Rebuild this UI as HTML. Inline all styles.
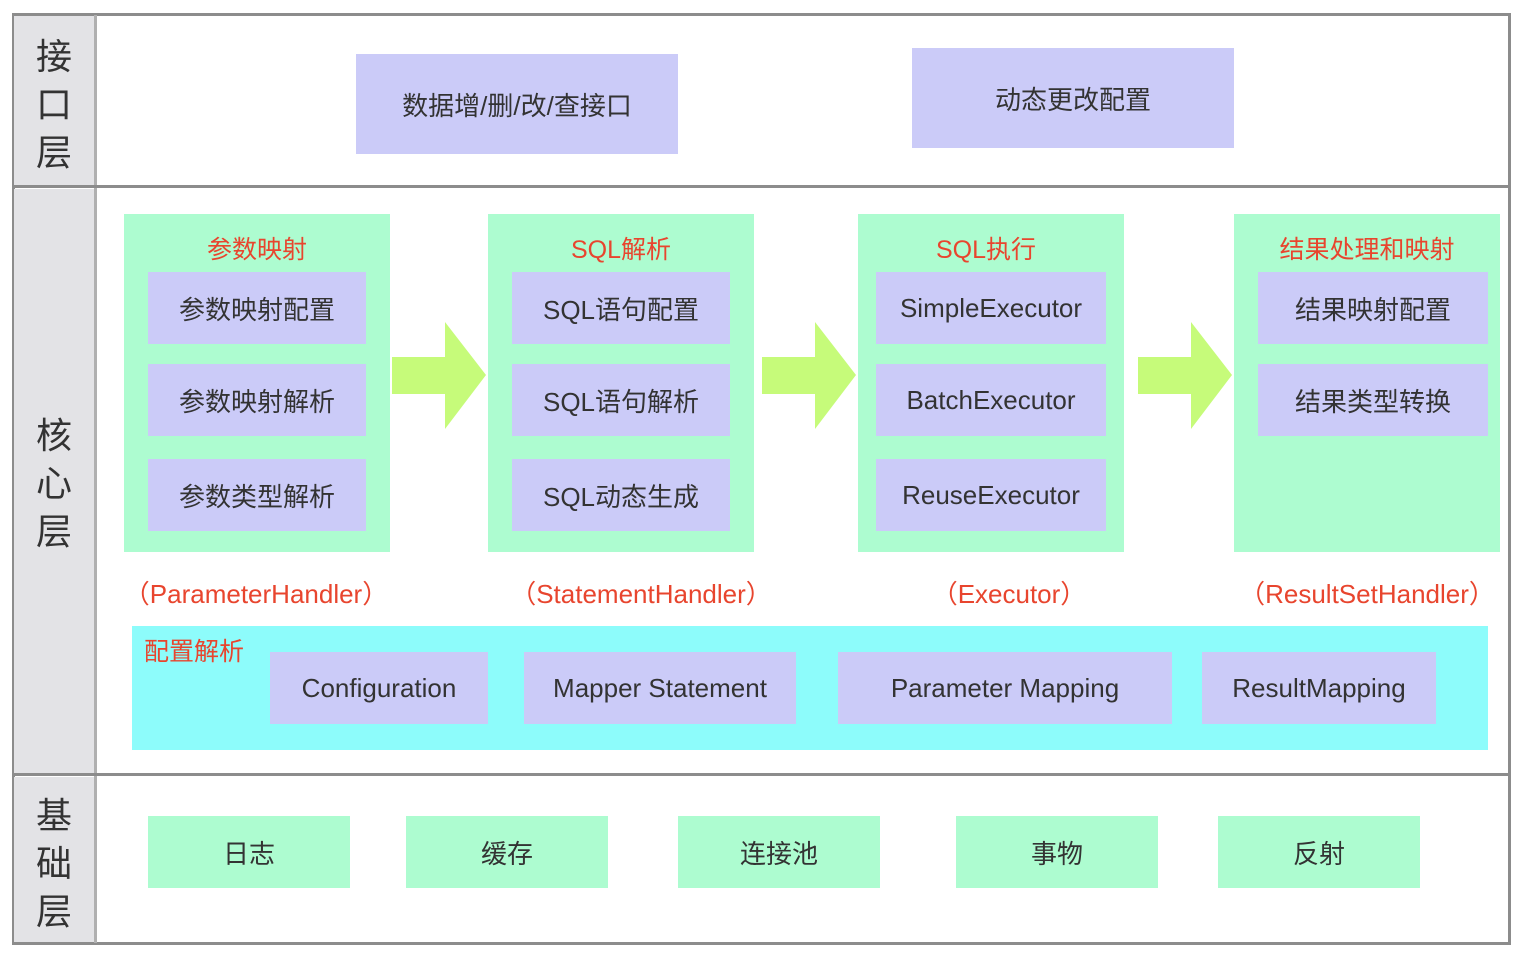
<!DOCTYPE html>
<html><head><meta charset="utf-8"><style>
body{margin:0;width:1526px;height:954px;background:#fff;position:relative;overflow:hidden;font-family:"Liberation Sans","Noto Sans CJK SC",sans-serif;color:#333}
div{position:absolute;box-sizing:border-box}
.b{display:flex;align-items:center;justify-content:center;font-size:26px}
.p{background:#cbcbf8}.g{background:#adfcd0}.c{background:#8dfcfb}
.r{color:#e8452e;font-size:25px;text-align:center}
.l{color:#e8452e;font-size:26px;text-align:center;white-space:nowrap}
.side{left:14px;width:80px;background:#e3e3e6;font-size:36px;color:#333;display:flex;flex-direction:column;align-items:center;justify-content:center;line-height:48px}
</style></head><body>
<div style="left:12px;top:13px;width:1499px;height:932px;border:3px solid #8c8c8c"></div>
<div class="side" style="top:16px;height:170px;padding-top:8px">接<br>口<br>层</div>
<div class="side" style="top:189px;height:584px;padding-top:6px">核<br>心<br>层</div>
<div class="side" style="top:777px;height:165px;padding-top:8px">基<br>础<br>层</div>
<div style="left:94px;top:15px;width:3px;height:928px;background:#b0b0b0"></div>
<div style="left:14px;top:185px;width:1496px;height:3px;background:#8c8c8c"></div>
<div style="left:14px;top:773px;width:1496px;height:3px;background:#8c8c8c"></div>

<div class="b p" style="left:356px;top:54px;width:322px;height:100px">数据增/删/改/查接口</div>
<div class="b p" style="left:912px;top:48px;width:322px;height:100px">动态更改配置</div>

<div class="g" style="left:124px;top:214px;width:266px;height:338px"></div>
<div class="g" style="left:488px;top:214px;width:266px;height:338px"></div>
<div class="g" style="left:858px;top:214px;width:266px;height:338px"></div>
<div class="g" style="left:1234px;top:214px;width:266px;height:338px"></div>
<div class="r" style="left:124px;top:230px;width:266px">参数映射</div>
<div class="r" style="left:488px;top:230px;width:266px">SQL解析</div>
<div class="r" style="left:858px;top:230px;width:256px">SQL执行</div>
<div class="r" style="left:1234px;top:230px;width:266px">结果处理和映射</div>

<div class="b p" style="left:148px;top:272px;width:218px;height:72px">参数映射配置</div>
<div class="b p" style="left:148px;top:364px;width:218px;height:72px">参数映射解析</div>
<div class="b p" style="left:148px;top:459px;width:218px;height:72px">参数类型解析</div>
<div class="b p" style="left:512px;top:272px;width:218px;height:72px">SQL语句配置</div>
<div class="b p" style="left:512px;top:364px;width:218px;height:72px">SQL语句解析</div>
<div class="b p" style="left:512px;top:459px;width:218px;height:72px">SQL动态生成</div>
<div class="b p" style="left:876px;top:272px;width:230px;height:72px">SimpleExecutor</div>
<div class="b p" style="left:876px;top:364px;width:230px;height:72px">BatchExecutor</div>
<div class="b p" style="left:876px;top:459px;width:230px;height:72px">ReuseExecutor</div>
<div class="b p" style="left:1258px;top:272px;width:230px;height:72px">结果映射配置</div>
<div class="b p" style="left:1258px;top:364px;width:230px;height:72px">结果类型转换</div>

<svg style="position:absolute;left:0;top:0" width="1526" height="954">
<g fill="#c6fb7a">
<polygon points="392,357 445,357 445,322 486,375 445,429 445,394 392,394"/>
<polygon points="762,357 815,357 815,322 856,375 815,429 815,394 762,394"/>
<polygon points="1138,357 1191,357 1191,322 1232,375 1191,429 1191,394 1138,394"/>
</g></svg>

<div class="l" style="left:96px;top:574px;width:320px">（ParameterHandler）</div>
<div class="l" style="left:470px;top:574px;width:342px">（StatementHandler）</div>
<div class="l" style="left:904px;top:574px;width:210px">（Executor）</div>
<div class="l" style="left:1222px;top:574px;width:290px">（ResultSetHandler）</div>

<div class="c" style="left:132px;top:626px;width:1356px;height:124px"></div>
<div class="r" style="left:144px;top:632px;width:110px;text-align:left">配置解析</div>
<div class="b p" style="left:270px;top:652px;width:218px;height:72px">Configuration</div>
<div class="b p" style="left:524px;top:652px;width:272px;height:72px">Mapper Statement</div>
<div class="b p" style="left:838px;top:652px;width:334px;height:72px">Parameter Mapping</div>
<div class="b p" style="left:1202px;top:652px;width:234px;height:72px">ResultMapping</div>

<div class="b g" style="left:148px;top:816px;width:202px;height:72px">日志</div>
<div class="b g" style="left:406px;top:816px;width:202px;height:72px">缓存</div>
<div class="b g" style="left:678px;top:816px;width:202px;height:72px">连接池</div>
<div class="b g" style="left:956px;top:816px;width:202px;height:72px">事物</div>
<div class="b g" style="left:1218px;top:816px;width:202px;height:72px">反射</div>
</body></html>
